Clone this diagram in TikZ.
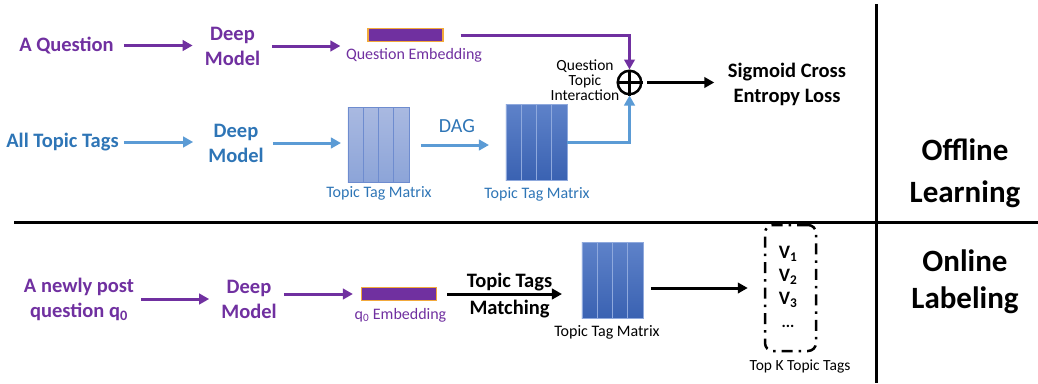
\documentclass[tikz,border=0pt]{standalone}
\usepackage{fontspec}
\setmainfont{Carlito}
\usetikzlibrary{arrows.meta,positioning}
\definecolor{qpurple}{HTML}{7030A0}
\definecolor{tagblue}{HTML}{2E75B6}
\definecolor{arrowblue}{HTML}{5B9BD5}
\definecolor{embedge}{HTML}{F2A93B}
\definecolor{lighttop}{HTML}{A9B9E1}
\definecolor{lightbot}{HTML}{8CA4D8}
\definecolor{lightedge}{HTML}{6E8CCF}
\definecolor{darktop}{HTML}{5E82C9}
\definecolor{darkbot}{HTML}{3A62B2}
\definecolor{darkedge}{HTML}{8FA9DD}

\begin{document}
\begin{tikzpicture}[x=1pt,y=1pt,
  bigtext/.style={font=\fontsize{20.5}{25}\selectfont\bfseries, align=center, inner sep=0pt},
  smalltext/.style={font=\fontsize{16}{18}\selectfont, inner sep=0pt},
  flow/.style={line width=3pt, -{Triangle[length=10pt,width=10.5pt]}},
  embbar/.style={fill=qpurple, draw=embedge, line width=1.2pt, minimum width=75pt, minimum height=13pt, inner sep=0pt},
  lightcol/.style={draw=lightedge, line width=0.8pt, top color=lighttop, bottom color=lightbot,
    minimum width=15.25pt, minimum height=75pt, inner sep=0pt, outer sep=0pt},
  darkcol/.style={draw=darkedge, line width=0.7pt, top color=darktop, bottom color=darkbot,
    minimum width=15.25pt, minimum height=76pt, inner sep=0pt, outer sep=0pt},
  rule/.style={line width=3pt}]
\useasboundingbox (0,0) rectangle (1038,-383);

\draw[rule] (14,-222) -- (1038,-222);
\draw[rule] (876,-4) -- (876,-383);

% offline learning
\node[bigtext, text=qpurple] (qin) at (66.5,-45.5) {A Question};
\node[bigtext, text=qpurple] (dm1) at (232.5,-46) {Deep\\Model};
\node[embbar] (qemb) at (405.5,-35) {};
\node[smalltext, text=qpurple] (qemblab) at (414,-55) {Question Embedding};

\node[bigtext, text=tagblue] (tin) at (62.5,-142) {All Topic Tags};
\node[bigtext, text=tagblue] (dm2) at (236,-143) {Deep\\Model};
\node[lightcol] (m1c1) at (355.6,-145) {};
\foreach \i [count=\j from 2] in {1,2,3}
  \node[lightcol, right=0pt of m1c\i] (m1c\j) {};
\node[smalltext, text=tagblue] (m1lab) at (379,-193) {Topic Tag Matrix};
\node[font=\fontsize{20}{24}\selectfont, text=tagblue, inner sep=0pt] (dag) at (457,-126.5) {DAG};
\node[darkcol] (m2c1) at (513.6,-142) {};
\foreach \i [count=\j from 2] in {1,2,3}
  \node[darkcol, right=0pt of m2c\i] (m2c\j) {};
\node[smalltext, text=tagblue] (m2lab) at (537,-194) {Topic Tag Matrix};

\node[draw, circle, line width=2.5pt, minimum size=23.5pt, inner sep=0pt] (plus) at (629.5,-82.5) {};
\draw[line width=2.5pt] (plus.north) -- (plus.south) (plus.west) -- (plus.east);
\node[font=\fontsize{15.5}{15}\selectfont, align=center, inner sep=0pt] (qti) at (585,-80) {Question\\Topic\\Interaction};
\node[bigtext] (loss) at (787,-84) {Sigmoid Cross\\Entropy Loss};
\node[font=\fontsize{31}{42}\selectfont\bfseries, align=center, inner sep=0pt] (offline) at (965,-173) {Offline\\Learning};

\draw[flow, draw=qpurple, shorten <=10pt, shorten >=12pt] (qin) -- (qin -| dm1.west);
\draw[flow, draw=qpurple, shorten <=12pt, shorten >=27pt] (dm1) -- (dm1 -| qemb.west);
\draw[flow, draw=qpurple, shorten <=17pt] (qemb.east) -| (plus);
\draw[flow, draw=arrowblue, shorten <=5pt, shorten >=15pt] (tin) -- (tin -| dm2.west);
\draw[flow, draw=arrowblue, shorten <=9pt, shorten >=7pt] (dm2) -- (dm2 -| m1c1.west);
\draw[flow, draw=arrowblue, shorten <=12pt, shorten >=17pt] (m1c4.east) -- (m1c4.east -| m2c1.west);
\draw[flow, draw=arrowblue] (m2c4.east) -| (plus);
\draw[flow, shorten <=4.5pt, shorten >=13.5pt] (plus.east) -- (plus.east -| loss.west);

% online labeling
\node[bigtext, text=qpurple] (newq) at (79,-299) {A newly post\\question q\textsubscript{0}};
\node[bigtext, text=qpurple] (dm3) at (249,-299) {Deep\\Model};
\node[embbar] (q0emb) at (399,-294) {};
\node[smalltext, text=qpurple] (q0lab) at (400.5,-315) {q\textsubscript{0} Embedding};
\node[darkcol] (m3c1) at (589.6,-280) {};
\foreach \i [count=\j from 2] in {1,2,3}
  \node[darkcol, right=0pt of m3c\i] (m3c\j) {};
\node[smalltext] (m3lab) at (607,-332) {Topic Tag Matrix};
\node[draw, line width=2.5pt, rounded corners=8pt, dash pattern=on 11pt off 6pt on 2.5pt off 6pt,
  minimum width=51pt, minimum height=126pt] (topk) at (790.5,-288) {};
\node[font=\fontsize{19}{22}\selectfont\bfseries, inner sep=0pt] (v1) at (788,-254) {V\textsubscript{1}};
\node[font=\fontsize{19}{22}\selectfont\bfseries, inner sep=0pt] (v2) at (788,-277) {V\textsubscript{2}};
\node[font=\fontsize{19}{22}\selectfont\bfseries, inner sep=0pt] (v3) at (788,-300) {V\textsubscript{3}};
\node[font=\fontsize{16}{18}\selectfont\bfseries, inner sep=0pt] (vdots) at (788,-326) {...};
\node[font=\fontsize{15.5}{18}\selectfont, inner sep=0pt] (topklab) at (800,-366) {Top K Topic Tags};
\node[font=\fontsize{31}{37}\selectfont\bfseries, align=center, inner sep=0pt] (online) at (965,-282) {Online\\Labeling};

\draw[flow, draw=qpurple, shorten <=7pt, shorten >=12pt] (newq) -- (newq -| dm3.west);
\draw[flow, draw=qpurple, shorten <=7pt, shorten >=8pt] (dm3.east |- q0emb.west) -- (q0emb.west);
\draw[flow, shorten <=10pt, shorten >=20pt] (q0emb.east) -- (q0emb.east -| m3c1.west)
  node[midway, above=1.5pt, bigtext] (mtop) {Topic Tags}
  node[midway, below=5pt, bigtext] (mbot) {Matching};
\draw[flow, shorten <=8pt, shorten >=16pt] (m3c4.east |- topk.west) -- (topk.west);

\end{tikzpicture}
\end{document}
